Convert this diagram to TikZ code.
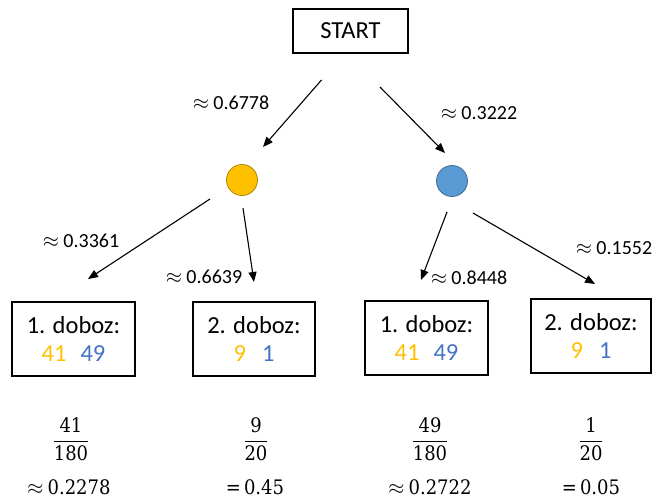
\documentclass[tikz,border=0pt]{standalone}
\usepackage{fontspec}
\setmainfont{Carlito}
\newfontfamily\fracfont{DejaVu Serif Condensed}
\usetikzlibrary{arrows.meta}

\definecolor{gold}{HTML}{FFC000}
\definecolor{sky}{HTML}{5B9BD5}
\definecolor{numblue}{HTML}{4472C4}

\tikzset{
  boxnode/.style={draw=black, line width=1.1pt, inner sep=0pt,
    minimum width=#1, minimum height=74pt, align=center,
    font=\fontsize{24.5}{28}\selectfont},
  ball/.style={circle, draw=#1!70!black, line width=0.8pt, fill=#1,
    minimum size=31pt, inner sep=0pt},
  edge/.style={line width=1.1pt, -{Triangle[length=10pt,width=8pt]}},
  prob/.style={font=\fontsize{20}{24}\selectfont, inner sep=0pt},
  result/.style={font=\fontsize{20}{24}\fracfont, inner sep=0pt},
}
\newcommand{\yel}[1]{\textcolor{gold}{#1}}
\newcommand{\blu}[1]{\textcolor{numblue}{#1}}
\newcommand{\approxsign}{$\approx$}
\newcommand{\frc}[2]{$\displaystyle\frac{\mbox{\fracfont #1}}{\mbox{\fracfont #2}}$}

\begin{document}
\begin{tikzpicture}[x=1pt, y=-1pt]
\useasboundingbox (0,0) rectangle (655,498);

% root and the two colour outcomes
\node[boxnode=115pt, minimum height=44pt] (start) at (350.5,31) {START};
\node[ball=gold] (yellow) at (242,180) {};
\node[ball=sky] (blue) at (452,181) {};

% the four boxes
\node[boxnode=123pt] (b1) at (73.5,339) {1. doboz:\\\yel{41}\hspace{14pt}\blu{49}};
\node[boxnode=122pt] (b2) at (254,339) {2. doboz:\\\yel{9}\hspace{16pt}\blu{1}};
\node[boxnode=123pt] (b3) at (426.5,338) {1. doboz:\\\yel{41}\hspace{14pt}\blu{49}};
\node[boxnode=120pt] (b4) at (591,336) {2. doboz:\\\yel{9}\hspace{16pt}\blu{1}};

% free ends of the arrows
\coordinate (s1) at (321.5,80);   \coordinate (e1) at (263,147);
\coordinate (s2) at (380,87);     \coordinate (e2) at (445,153);
\coordinate (s3) at (210,199);    \coordinate (e3) at (88,279);
\coordinate (s4) at (243,208);    \coordinate (e4) at (254,282);
\coordinate (s5) at (447,212);    \coordinate (e5) at (421,280);
\coordinate (s6) at (473,213);    \coordinate (e6) at (595,284);

\draw[edge] (s1) -- (e1);
\draw[edge] (s2) -- (e2);
\draw[edge] (s3) -- (e3);
\draw[edge] (s4) -- (e4);
\draw[edge] (s5) -- (e5);
\draw[edge] (s6) -- (e6);

% branch probabilities
\node[prob] (p1) at (231,103) {\approxsign\ 0.6778};
\node[prob] (p2) at (479,113) {\approxsign\ 0.3222};
\node[prob] (p3) at (81,241)  {\approxsign\ 0.3361};
\node[prob] (p4) at (204,277) {\approxsign\ 0.6639};
\node[prob] (p5) at (469,278) {\approxsign\ 0.8448};
\node[prob] (p6) at (614,248) {\approxsign\ 0.1552};

% path probabilities
\node[result] (f1) at (71,439)  {\frc{41}{180}};
\node[result] (f2) at (256,439) {\frc{9}{20}};
\node[result] (f3) at (430,439) {\frc{49}{180}};
\node[result] (f4) at (591,439) {\frc{1}{20}};

\node[result] (r1) at (69,487)  {$\approx$\hspace{4pt}0.2278};
\node[result] (r2) at (255,487) {=\hspace{3pt}0.45};
\node[result] (r3) at (430,487) {$\approx$\hspace{4pt}0.2722};
\node[result] (r4) at (591,487) {=\hspace{3pt}0.05};
\end{tikzpicture}
\end{document}
